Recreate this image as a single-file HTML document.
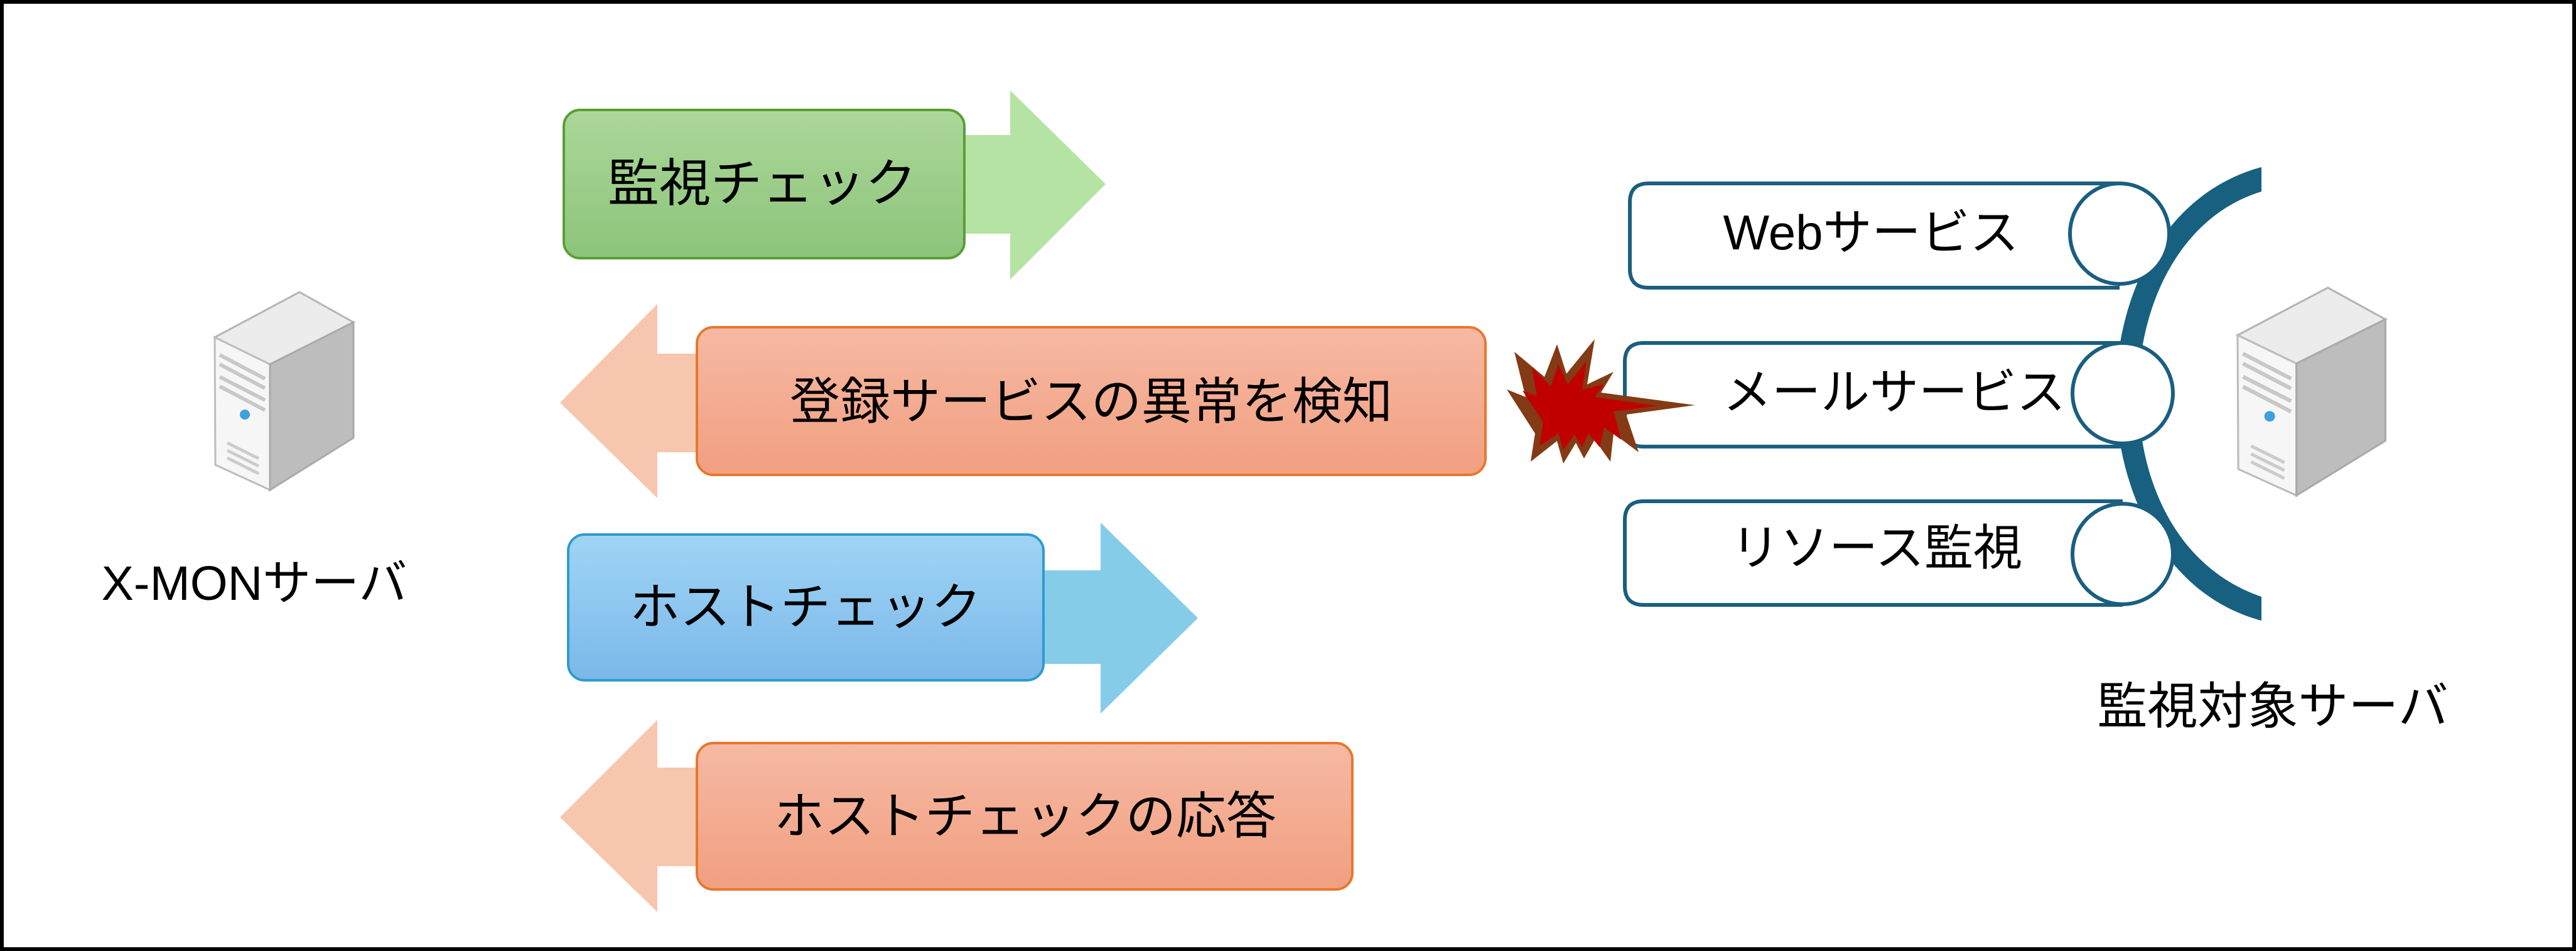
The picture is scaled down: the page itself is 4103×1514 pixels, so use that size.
<!DOCTYPE html>
<html><head><meta charset="utf-8"><style>
html,body{margin:0;padding:0;background:#fff}
svg{display:block}
text{font-family:"Liberation Sans","Noto Sans CJK JP",sans-serif;fill:#000}
</style></head><body>
<svg width="4103" height="1514" viewBox="0 0 4103 1514" xmlns="http://www.w3.org/2000/svg">
<defs>
<linearGradient id="g" x1="0" y1="0" x2="0" y2="1"><stop offset="0" stop-color="#acd79a"/><stop offset="1" stop-color="#8cc47a"/></linearGradient>
<linearGradient id="r" x1="0" y1="0" x2="0" y2="1"><stop offset="0" stop-color="#f6b9a3"/><stop offset="1" stop-color="#f19f80"/></linearGradient>
<linearGradient id="b" x1="0" y1="0" x2="0" y2="1"><stop offset="0" stop-color="#a0d4f5"/><stop offset="1" stop-color="#7ab8e9"/></linearGradient>
<g id="srv">
<polygon points="0,72 135,0 221,48 88,115" fill="#ececec" stroke="#b5b5b5" stroke-width="3"/>
<polygon points="0,72 88,115 88,315 1,275" fill="#f6f6f6" stroke="#bdbdbd" stroke-width="3"/>
<polygon points="88,115 221,48 221,232 88,315" fill="#bdbdbd" stroke="#aaa" stroke-width="3"/>
<path d="M8,100 L80,138 M8,115 L80,153 M8,135 L80,172 M8,150 L80,188" stroke="#c8c8c8" stroke-width="6"/>
<circle cx="48" cy="195" r="8" fill="#3ea0de"/>
<path d="M20,240 L70,265 M20,252 L70,277 M20,264 L70,289" stroke="#ccc" stroke-width="5"/>
</g>
</defs>
<rect x="3" y="3" width="4097" height="1508" fill="#fff" stroke="#000" stroke-width="6"/>

<polygon points="1536,215 1609,215 1609,144 1761,293 1609,445 1609,372 1536,372" fill="#b5e3a3"/>
<rect x="898" y="175" width="638" height="236" rx="26" fill="url(#g)" stroke="#5a9e35" stroke-width="4"/>
<text x="1214" y="320" font-size="82" text-anchor="middle">監視チェック</text>

<polygon points="1110,563 1047,563 1047,484 892,641 1047,793 1047,720 1110,720" fill="#f6c7ae"/>
<rect x="1110" y="521" width="1256" height="235" rx="26" fill="url(#r)" stroke="#e8772f" stroke-width="4"/>
<text x="1738" y="667" font-size="80" text-anchor="middle">登録サービスの異常を検知</text>

<polygon points="1662,908 1753,908 1753,832 1908,984 1753,1136 1753,1057 1662,1057" fill="#85cce9"/>
<rect x="905" y="851" width="757" height="232" rx="26" fill="url(#b)" stroke="#2e9bd0" stroke-width="4"/>
<text x="1283" y="994" font-size="80" text-anchor="middle">ホストチェック</text>

<polygon points="1110,1222 1047,1222 1047,1146 892,1301 1047,1452 1047,1379 1110,1379" fill="#f6c7ae"/>
<rect x="1110" y="1183" width="1044" height="233" rx="26" fill="url(#r)" stroke="#e8772f" stroke-width="4"/>
<text x="1633" y="1327" font-size="80" text-anchor="middle">ホストチェックの応答</text>

<use href="#srv" transform="translate(342,465)"/>
<use href="#srv" transform="translate(3564,458) scale(1.065,1.05)"/>
<text x="405" y="955" font-size="77" text-anchor="middle">X-MONサーバ</text>
<text x="3620" y="1152" font-size="80" text-anchor="middle">監視対象サーバ</text>

<path d="M3602,266 C3440,310 3370,480 3370,626 C3370,770 3440,945 3602,988 L3602,950 C3470,905 3406,770 3406,626 C3406,490 3470,345 3602,305 Z" fill="#17607f"/>

<g stroke="#1a5e80" stroke-width="6" fill="#fff">
<path d="M3376,292 L2626,292 Q2596,292 2596,322 L2596,428 Q2596,458 2626,458 L3376,458"/>
<ellipse cx="3376" cy="372" rx="79" ry="80"/>
<path d="M3381,546 L2618,546 Q2588,546 2588,576 L2588,681 Q2588,711 2618,711 L3381,711"/>
<ellipse cx="3381" cy="626" rx="80" ry="80"/>
<path d="M3381,798 L2618,798 Q2588,798 2588,828 L2588,933 Q2588,963 2618,963 L3381,963"/>
<ellipse cx="3381" cy="882" rx="80" ry="80"/>
</g>
<text x="2980" y="397" font-size="78" text-anchor="middle">Webサービス</text>
<text x="3017" y="651" font-size="78" text-anchor="middle">メールサービス</text>
<text x="2989" y="899" font-size="78" text-anchor="middle">リソース監視</text>

<polygon points="2400,620 2430,632 2412,560 2460,600 2480,548 2495,595 2540,540 2528,612 2570,592 2550,625 2700,645 2590,660 2610,720 2570,690 2565,735 2540,700 2523,730 2510,705 2490,738 2480,702 2438,735 2445,690" fill="#843a14"/>
<polygon points="2425,622 2448,630 2440,585 2470,615 2482,580 2497,612 2527,575 2520,620 2555,612 2540,632 2640,646 2570,655 2582,700 2555,680 2548,712 2530,690 2520,712 2508,692 2490,716 2482,690 2452,710 2458,672" fill="#c00000"/>
</svg>
</body></html>
